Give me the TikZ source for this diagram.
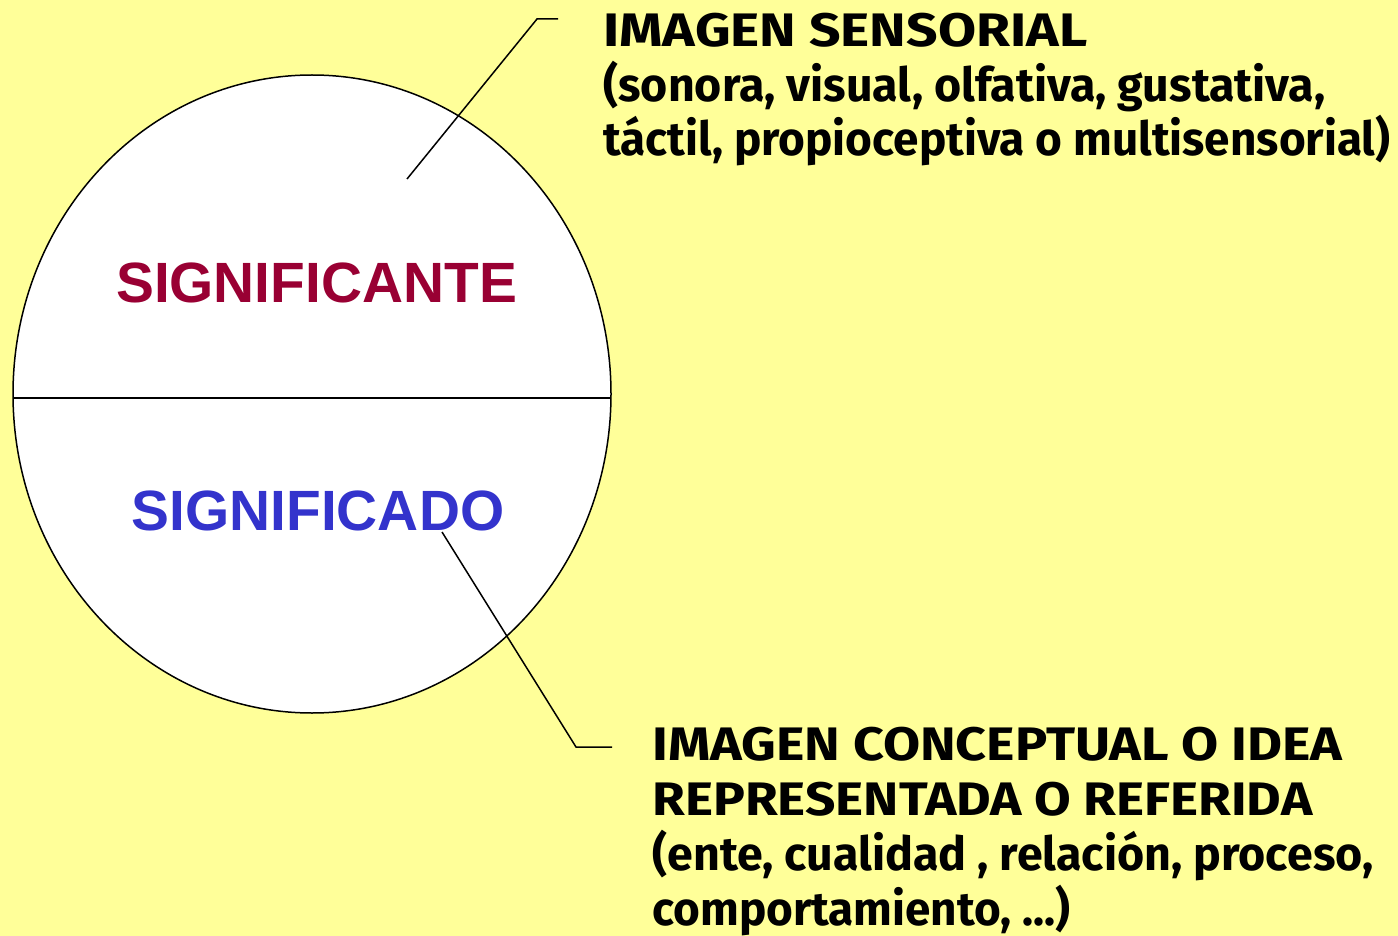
\documentclass[tikz,border=0pt]{standalone}
\usepackage{fontspec}
\usepackage{graphicx}
\usetikzlibrary{shapes.geometric}
\setmainfont{Liberation Sans}
\newfontfamily\notefont{Fira Sans}
\newcommand{\fitto}[2]{\resizebox{#1}{\height}{#2}}
\definecolor{bgyellow}{HTML}{FFFF99}
\definecolor{sigred}{HTML}{990033}
\definecolor{sigblue}{HTML}{3333CC}
\begin{document}
\begin{tikzpicture}[x=0.5pt,y=-0.5pt,
  leader/.style={draw=black,line width=0.75pt},
  bigword/.style={font=\fontsize{28.4}{32}\selectfont\bfseries,inner sep=0pt,anchor=base},
  note/.style={font=\notefont\bfseries\fontsize{23.5}{27}\selectfont,inner sep=0pt,anchor=base west}]
\fill[bgyellow] (0,0) rectangle (1398,936);
\useasboundingbox (0,0) rectangle (1398,936);
\node[draw=black,line width=0.75pt,fill=white,ellipse,inner sep=0pt,minimum width=299pt,minimum height=319pt] (circ) at (312,394) {};
\coordinate (dl) at (13,398);
\coordinate (dr) at (611,398);
\draw[leader] (dl) -- (dr);
\node[bigword,text=sigred] (ante) at (316.5,303) {SIGNIFICANTE};
\node[bigword,text=sigblue] (ado) at (318,530) {SIGNIFICADO};
\node[note] (t1) at (603,47) {\fitto{242pt}{IMAGEN SENSORIAL}};
\node[note] (t2) at (603,102) {\fitto{361pt}{(sonora, visual, olfativa, gustativa,}};
\node[note] (t3) at (603,156) {\fitto{393.5pt}{táctil, propioceptiva o multisensorial)}};
\node[note] (b1) at (652,760) {\fitto{345pt}{IMAGEN CONCEPTUAL O IDEA}};
\node[note] (b2) at (652,815) {\fitto{330pt}{REPRESENTADA O REFERIDA}};
\node[note] (b3) at (652,870) {\fitto{360.5pt}{(ente, cualidad , relación, proceso,}};
\node[note] (b4) at (652,925) {\fitto{209pt}{comportamiento, ...)}};
\coordinate (a0) at (407,179);
\coordinate (a1) at (537,19);
\coordinate (a2) at (558,19);
\draw[leader] (a0) -- (a1) -- (a2);
\coordinate (c0) at (442,532);
\coordinate (c1) at (576,747);
\coordinate (c2) at (612,747);
\draw[leader] (c0) -- (c1) -- (c2);
\end{tikzpicture}
\end{document}
